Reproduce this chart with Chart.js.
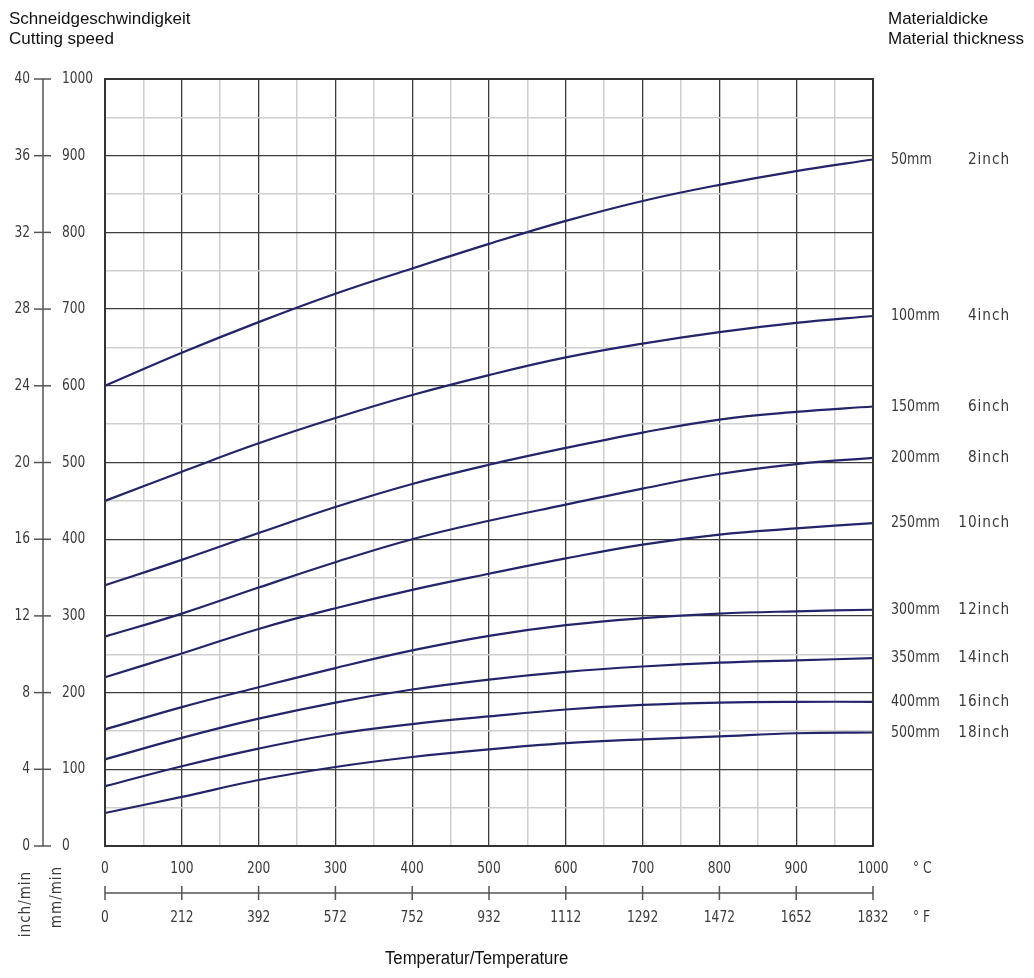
<!DOCTYPE html>
<html>
<head>
<meta charset="utf-8">
<script src="https://cdn.jsdelivr.net/npm/chart.js@4.4.1/dist/chart.umd.min.js"></script>
<style>
  html, body { margin: 0; padding: 0; background: #fff; }
  #wrap { position: relative; width: 1034px; height: 978px; }
  canvas { position: absolute; left: 0; top: 0; }
  .t { position: absolute; font-family: "Liberation Sans", Arial, sans-serif; font-size: 17px; color: #111; line-height: 20px; white-space: nowrap; }
</style>
</head>
<body>
<div id="wrap">
  <canvas id="c" width="1034" height="978"></canvas>
  <div class="t" style="left:9px; top:9px;">Schneidgeschwindigkeit<br>Cutting speed</div>
  <div class="t" style="left:888px; top:9px;">Materialdicke<br>Material thickness</div>
  <div class="t" style="left:385px; top:948px; font-size:18px; transform: scaleX(0.93); transform-origin: left top;">Temperatur/Temperature</div>
</div>
<script>
// ---- data ----
const temperaturesC = [0, 100, 200, 300, 400, 500, 600, 700, 800, 900, 1000];
const temperaturesF = ['0', '212', '392', '572', '752', '932', '1112', '1292', '1472', '1652', '1832'];
const speedMmTicks = ['0', '100', '200', '300', '400', '500', '600', '700', '800', '900', '1000'];
const speedInchTicks = ['0', '4', '8', '12', '16', '20', '24', '28', '32', '36', '40'];
const thicknessMm = ['50mm', '100mm', '150mm', '200mm', '250mm', '300mm', '350mm', '400mm', '500mm'];
const thicknessInch = ['2inch', '4inch', '6inch', '8inch', '10inch', '12inch', '14inch', '16inch', '18inch'];

const speed50  = [600, 643, 683, 720, 753, 785, 815, 841, 862, 880, 895];
const speed100 = [450, 488, 525, 558, 588, 614, 637, 655, 670, 682, 691];
const speed150 = [340, 373, 408, 442, 472, 497, 519, 539, 556, 566, 573];
const speed200 = [273, 303, 337, 370, 400, 424, 445, 466, 485, 498, 506];
const speed250 = [220, 251, 283, 310, 334, 355, 375, 393, 406, 414, 421];
const speed300 = [152, 181, 207, 232, 255, 274, 288, 297, 303, 306, 308];
const speed350 = [113, 141, 166, 187, 204, 217, 227, 234, 239, 242, 245];
const speed400 = [78, 104, 127, 146, 159, 169, 178, 184, 187, 188, 188];
const speed500 = [43, 64, 86, 103, 116, 126, 134, 139, 143, 147, 148];

const allSeries = [speed50, speed100, speed150, speed200, speed250, speed300, speed350, speed400, speed500];

const LINE = '#24246a';
const TEXT = '#3a3a3a';
const NUMFONT = '"DejaVu Sans Condensed", "DejaVu Sans", sans-serif';

const datasets = allSeries.map((s, i) => ({
  label: thicknessMm[i],
  data: s.map((v, k) => ({ x: temperaturesC[k], y: v })),
  borderColor: LINE,
  borderWidth: 2.2,
  pointRadius: 0,
  fill: false,
  tension: 0.4,
  clip: false
}));

function gridColor(c) { return (c.tick && c.tick.value % 100 === 0) ? '#3c3c3c' : '#cfcfcf'; }
function gridWidth(c) { return (c.tick && c.tick.value % 100 === 0) ? 1.3 : 1.5; }

function txt(ctx, s, x, y, align, sx) {
  ctx.save();
  ctx.translate(x, y);
  ctx.scale(sx, 1);
  ctx.textAlign = align;
  ctx.fillText(s, 0, 0);
  ctx.restore();
}

const decor = {
  id: 'decor',
  afterDraw(chart) {
    const ctx = chart.ctx;
    const ca = chart.chartArea;
    const xs = chart.scales.x, ys = chart.scales.y;
    ctx.save();
    // frame
    ctx.strokeStyle = '#333';
    ctx.lineWidth = 2;
    ctx.strokeRect(ca.left, ca.top, ca.right - ca.left, ca.bottom - ca.top);

    // left dual axis
    const ax = 43;
    ctx.strokeStyle = '#555';
    ctx.lineWidth = 1.5;
    ctx.beginPath();
    ctx.moveTo(ax, ys.getPixelForValue(1000));
    ctx.lineTo(ax, ys.getPixelForValue(0));
    ctx.stroke();
    ctx.font = '16px ' + NUMFONT;
    ctx.fillStyle = TEXT;
    ctx.textBaseline = 'middle';
    const SX = 0.85;
    speedMmTicks.forEach((lab, i) => {
      const v = Number(lab);
      const y = ys.getPixelForValue(v);
      ctx.beginPath();
      ctx.moveTo(34, y); ctx.lineTo(51, y); ctx.stroke();
      txt(ctx, speedInchTicks[i], 30, y, 'right', SX);
      txt(ctx, lab, 62, y, 'left', SX);
    });

    // Celsius labels
    temperaturesC.forEach((t) => {
      txt(ctx, String(t), xs.getPixelForValue(t), 869, 'center', SX);
    });
    txt(ctx, '\u00B0 C', 913, 869, 'left', SX);

    // Fahrenheit scale line
    ctx.beginPath();
    ctx.moveTo(xs.getPixelForValue(0), 893);
    ctx.lineTo(xs.getPixelForValue(1000), 893);
    ctx.stroke();
    temperaturesC.forEach((t, i) => {
      const x = xs.getPixelForValue(t);
      ctx.beginPath(); ctx.moveTo(x, 886); ctx.lineTo(x, 900); ctx.stroke();
      txt(ctx, temperaturesF[i], x, 918, 'center', SX);
    });
    txt(ctx, '\u00B0 F', 913, 918, 'left', SX);

    // rotated unit labels
    ctx.font = '15px ' + NUMFONT;
    [['inch/min', 26, 904], ['mm/min', 57, 897]].forEach(([s, x, y]) => {
      ctx.save();
      ctx.translate(x, y);
      ctx.rotate(-Math.PI / 2);
      ctx.letterSpacing = '1px';
      ctx.textAlign = 'center';
      ctx.fillText(s, 0, 0);
      ctx.restore();
    });

    // right thickness labels
    ctx.font = '16px ' + NUMFONT;
    allSeries.forEach((s, i) => {
      const y = ys.getPixelForValue(s[s.length - 1]);
      txt(ctx, thicknessMm[i], 891, y, 'left', 0.88);
      ctx.letterSpacing = '1px';
      txt(ctx, thicknessInch[i], 1010, y, 'right', 0.95);
      ctx.letterSpacing = '0px';
    });
    ctx.restore();
  }
};

new Chart(document.getElementById('c'), {
  type: 'line',
  data: { datasets },
  options: {
    responsive: false,
    animation: false,
    events: [],
    layout: { padding: { top: 79, right: 161, left: 0, bottom: 0 } },
    plugins: { legend: { display: false }, tooltip: { enabled: false } },
    scales: {
      x: {
        type: 'linear', min: 0, max: 1000,
        ticks: { stepSize: 50, display: false },
        grid: { color: gridColor, lineWidth: gridWidth, drawTicks: false },
        border: { display: false },
        afterFit(s) { s.height = 132; }
      },
      y: {
        type: 'linear', min: 0, max: 1000,
        ticks: { stepSize: 50, display: false },
        grid: { color: gridColor, lineWidth: gridWidth, drawTicks: false },
        border: { display: false },
        afterFit(s) { s.width = 105; }
      }
    }
  },
  plugins: [decor]
});
</script>
</body>
</html>
